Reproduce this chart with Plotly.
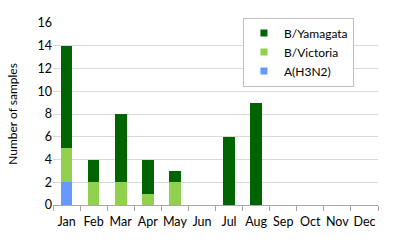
import plotly.graph_objects as go

months = ["Jan", "Feb", "Mar", "Apr", "May", "Jun", "Jul", "Aug", "Sep", "Oct", "Nov", "Dec"]
h3n2 = [2, 0, 0, 0, 0, 0, 0, 0, 0, 0, 0, 0]
victoria = [3, 2, 2, 1, 2, 0, 0, 0, 0, 0, 0, 0]
yamagata = [9, 2, 6, 3, 1, 0, 6, 9, 0, 0, 0, 0]
y_ticks = [0, 2, 4, 6, 8, 10, 12, 14, 16]

series = [("A(H3N2)", h3n2, "#6699FF"), ("B/Victoria", victoria, "#92D050"), ("B/Yamagata", yamagata, "#006400")]

font = "Lato, 'Open Sans', sans-serif"

fig = go.Figure()
for name, vals, color in series:
    fig.add_trace(go.Bar(x=months, y=vals, name=name, showlegend=False,
                         marker=dict(color=color, line=dict(width=0))))
for name, vals, color in series:
    fig.add_trace(go.Scatter(x=[None], y=[None], mode="markers", name=name,
                             marker=dict(symbol="square", size=7, color=color)))

fig.update_layout(
    width=394, height=242,
    barmode="stack", bargap=0.57,
    margin=dict(l=53, r=16, t=23, b=37),
    paper_bgcolor="white", plot_bgcolor="white",
    font=dict(family=font, size=12, color="#000000"),
    showlegend=True,
    legend=dict(
        x=0.926, xanchor="right", y=1.03, yanchor="top",
        bgcolor="white", bordercolor="#BFBFBF", borderwidth=1,
        traceorder="reversed", font=dict(size=12), itemwidth=30,
        tracegroupgap=0,
    ),
)
fig.update_xaxes(
    type="category", tickson="boundaries", ticks="outside", ticklen=5,
    tickcolor="#A6A6A6", showline=True, linecolor="#A6A6A6", linewidth=1,
    showgrid=False, tickfont=dict(size=12.5), tickangle=0, ticklabelstandoff=5,
)
fig.update_yaxes(
    range=[0, 16], tickvals=y_ticks, showgrid=True, gridcolor="#D9D9D9",
    zeroline=False, showline=False, tickfont=dict(size=12.5),
    title=dict(text="Number of samples", font=dict(size=12), standoff=17),
)

fig.write_html("out.html")
